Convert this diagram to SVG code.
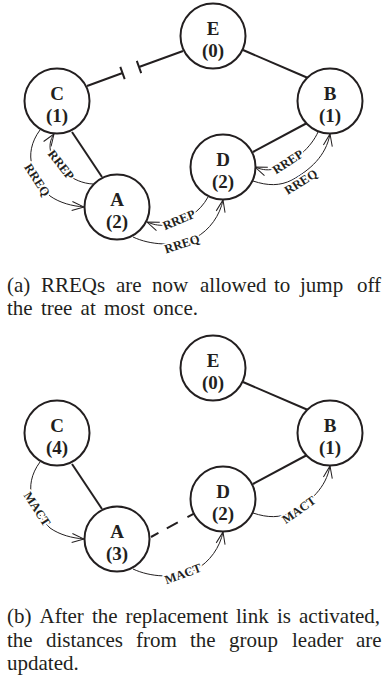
<svg xmlns="http://www.w3.org/2000/svg" width="383" height="682" viewBox="0 0 383 682">
<style>
text{font-family:"Liberation Serif","Times New Roman",serif}
.node circle{fill:#fff;stroke:#231f20;stroke-width:2}
.node text{font-weight:bold;font-size:19px;text-anchor:middle;fill:#231f20}
.edge{stroke:#231f20;stroke-width:2;fill:none}
.dash{stroke-dasharray:8.5 9.5 12.5 11}
.msg{stroke:#231f20;stroke-width:1;fill:none;marker-end:url(#ah)}
.lbl{font-weight:bold;font-size:12.5px;text-anchor:middle;fill:#231f20;stroke:#fff;stroke-width:3.5;paint-order:stroke;stroke-linejoin:round}
.cap{font-size:21px;fill:#231f20}
</style>
<defs>
<marker id="ah" viewBox="-13 -6 14 12" refX="0" refY="0" markerWidth="14" markerHeight="12" markerUnits="userSpaceOnUse" orient="auto">
<path d="M-12,-4.5 L0,0 L-12,4.5" fill="none" stroke="#231f20" stroke-width="1"/>
</marker>
</defs>
<rect width="383" height="682" fill="#fff"/>

<g id="connectors">
<path class="edge" d="M87,86 L122.5,73 M120.3,66.9 L124.7,79.1 M136.8,60.9 L141.2,73.1 M139,67 L183,51"/>
<path class="edge" d="M243,50 L308,78"/>
<path class="edge" d="M72,132 L102,177"/>
<path class="edge" d="M253,152 L307,123"/>
<path class="msg" d="M40,130 C31,142 29,155 32,165 C36,178 42,188 50,196 C60,203 72,206 84,207"/>
<path class="msg" d="M93,184 C72,183 56,167 51,153 C49,146 50,140 54,134"/>
<path class="msg" d="M208,197 C200,212 185,222 165,225 C158,226 152,224 147,222"/>
<path class="msg" d="M133,237 C150,245 175,247 195,238 C210,230 220,215 223,200"/>
<path class="msg" d="M318,132 C312,146 294,164 274,169 C266,171 260,169 255,167"/>
<path class="msg" d="M253,181 C268,186 280,186 292,180 C310,170 326,156 330,134"/>
<text class="lbl" transform="translate(37,180) rotate(57)" dy="4">RREQ</text>
<text class="lbl" transform="translate(61,165) rotate(52)" dy="4">RREP</text>
<text class="lbl" transform="translate(179,220) rotate(-23)" dy="4">RREP</text>
<text class="lbl" transform="translate(182,244) rotate(-18)" dy="4">RREQ</text>
<text class="lbl" transform="translate(288,162) rotate(-33)" dy="4">RREP</text>
<text class="lbl" transform="translate(301,182) rotate(-32)" dy="4">RREQ</text>
<path class="edge" d="M243,382 L308,410"/>
<path class="edge" d="M72,464 L102,509"/>
<path class="edge" d="M253,484 L307,455"/>
<path class="edge dash" d="M151,537 L195,513"/>
<path class="msg" d="M40,462 C31,474 29,487 32,497 C36,510 42,520 50,528 C60,535 72,538 84,539"/>
<path class="msg" d="M133,569 C150,577 175,579 195,570 C210,562 220,547 223,532"/>
<path class="msg" d="M253,513 C268,518 280,518 292,512 C310,502 326,488 330,466"/>
<text class="lbl" transform="translate(37,509) rotate(57)" dy="4">MACT</text>
<text class="lbl" transform="translate(183,574) rotate(-20)" dy="4">MACT</text>
<text class="lbl" transform="translate(299,510) rotate(-35)" dy="4">MACT</text>
</g>

<g id="a-E" class="node"><circle cx="213" cy="36" r="32.5"/><text x="213" y="35">E</text><text x="213" y="57">(0)</text></g>
<g id="a-C" class="node"><circle cx="57" cy="101" r="32.5"/><text x="57" y="100">C</text><text x="57" y="122">(1)</text></g>
<g id="a-B" class="node"><circle cx="330" cy="101" r="32.5"/><text x="330" y="100">B</text><text x="330" y="122">(1)</text></g>
<g id="a-D" class="node"><circle cx="223" cy="167" r="32.5"/><text x="223" y="166">D</text><text x="223" y="188">(2)</text></g>
<g id="a-A" class="node"><circle cx="117" cy="207" r="32.5"/><text x="117" y="206">A</text><text x="117" y="228">(2)</text></g>
<g id="b-E" class="node"><circle cx="213" cy="368" r="32.5"/><text x="213" y="367">E</text><text x="213" y="389">(0)</text></g>
<g id="b-C" class="node"><circle cx="57" cy="433" r="32.5"/><text x="57" y="432">C</text><text x="57" y="454">(4)</text></g>
<g id="b-B" class="node"><circle cx="330" cy="433" r="32.5"/><text x="330" y="432">B</text><text x="330" y="454">(1)</text></g>
<g id="b-D" class="node"><circle cx="223" cy="499" r="32.5"/><text x="223" y="498">D</text><text x="223" y="520">(2)</text></g>
<g id="b-A" class="node"><circle cx="117" cy="539" r="32.5"/><text x="117" y="538">A</text><text x="117" y="560">(3)</text></g>

<g id="caption-a" class="cap">
<text y="292"><tspan x="7">(a)</tspan><tspan x="41">RREQs</tspan><tspan x="116">are</tspan><tspan x="152">now</tspan><tspan x="200">allowed</tspan><tspan x="274">to</tspan><tspan x="300">jump</tspan><tspan x="357">off</tspan></text>
<text x="7" y="315" word-spacing="3">the tree at most once.</text>
</g>
<g id="caption-b" class="cap">
<text y="623"><tspan x="7">(b)</tspan><tspan x="39.5">After</tspan><tspan x="92">the</tspan><tspan x="125.5">replacement</tspan><tspan x="236">link</tspan><tspan x="277">is</tspan><tspan x="299">activated,</tspan></text>
<text y="647"><tspan x="7">the</tspan><tspan x="46">distances</tspan><tspan x="136">from</tspan><tspan x="190">the</tspan><tspan x="229">group</tspan><tspan x="292">leader</tspan><tspan x="356">are</tspan></text>
<text x="7" y="670">updated.</text>
</g>
</svg>
